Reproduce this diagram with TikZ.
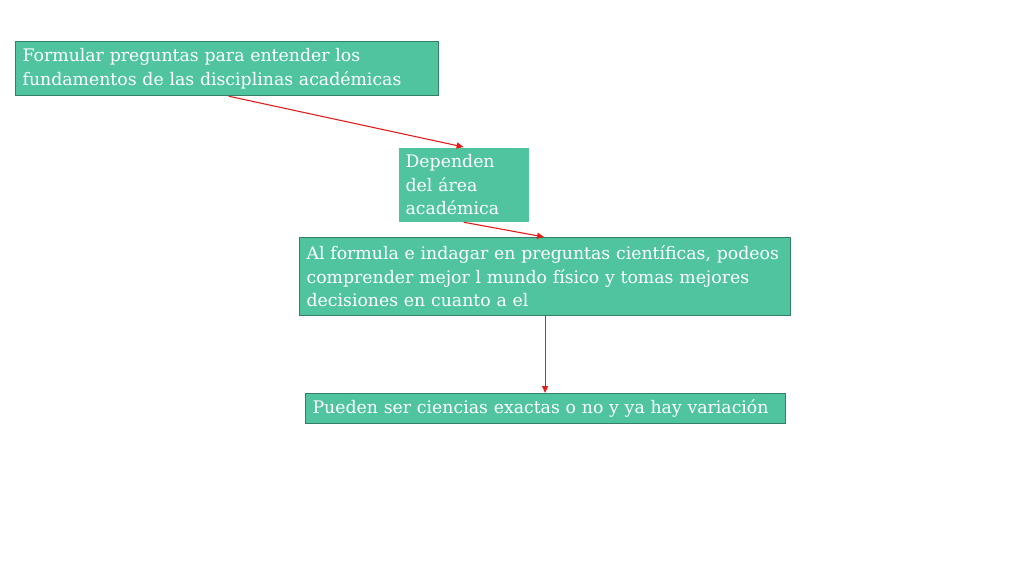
\documentclass[tikz,border=0pt]{standalone}
\usepackage{fontspec}
\setmainfont{DejaVu Serif}
\usetikzlibrary{arrows.meta}
\definecolor{boxfill}{RGB}{80,196,158}
\definecolor{boxline}{RGB}{52,128,100}
\definecolor{arrowred}{RGB}{225,30,25}
\begin{document}
\begin{tikzpicture}[x=1pt,y=-1pt,
  box/.style={draw=boxline, line width=1.2pt, fill=boxfill, anchor=north west, inner xsep=7pt, inner ysep=0pt,
    align=left, text=white, font=\fontsize{17.3}{23.5}\selectfont},
  link/.style={draw=arrowred, line width=1.1pt, -{Triangle[length=7pt,width=6pt]}}]
\useasboundingbox (0,0) rectangle (1024,576);
\node[box, text width=409pt, minimum height=54pt] (b1) at (15,41)
  {Formular preguntas para entender los\\fundamentos de las disciplinas académicas};
\node[box, draw=none, text width=116pt, minimum height=74pt] (b2) at (398,147)
  {Dependen\\del área\\académica};
\node[box, text width=477pt, minimum height=78pt] (b3) at (299,237)
  {Al formula e indagar en preguntas científicas, podeos\\comprender mejor l mundo físico y tomas mejores\\decisiones en cuanto a el};
\node[box, text width=466pt, minimum height=30pt] (b4) at (305,393)
  {Pueden ser ciencias exactas o no y ya hay variación};
\coordinate (a1s) at ([xshift=1.5pt]b1.south);
\draw[link] (a1s) -- (b2.north);
\draw[link] (b2.south) -- ([xshift=-1pt]b3.north);
\draw[link] (b3.south) -- (b3.south |- b4.north);
\end{tikzpicture}
\end{document}
